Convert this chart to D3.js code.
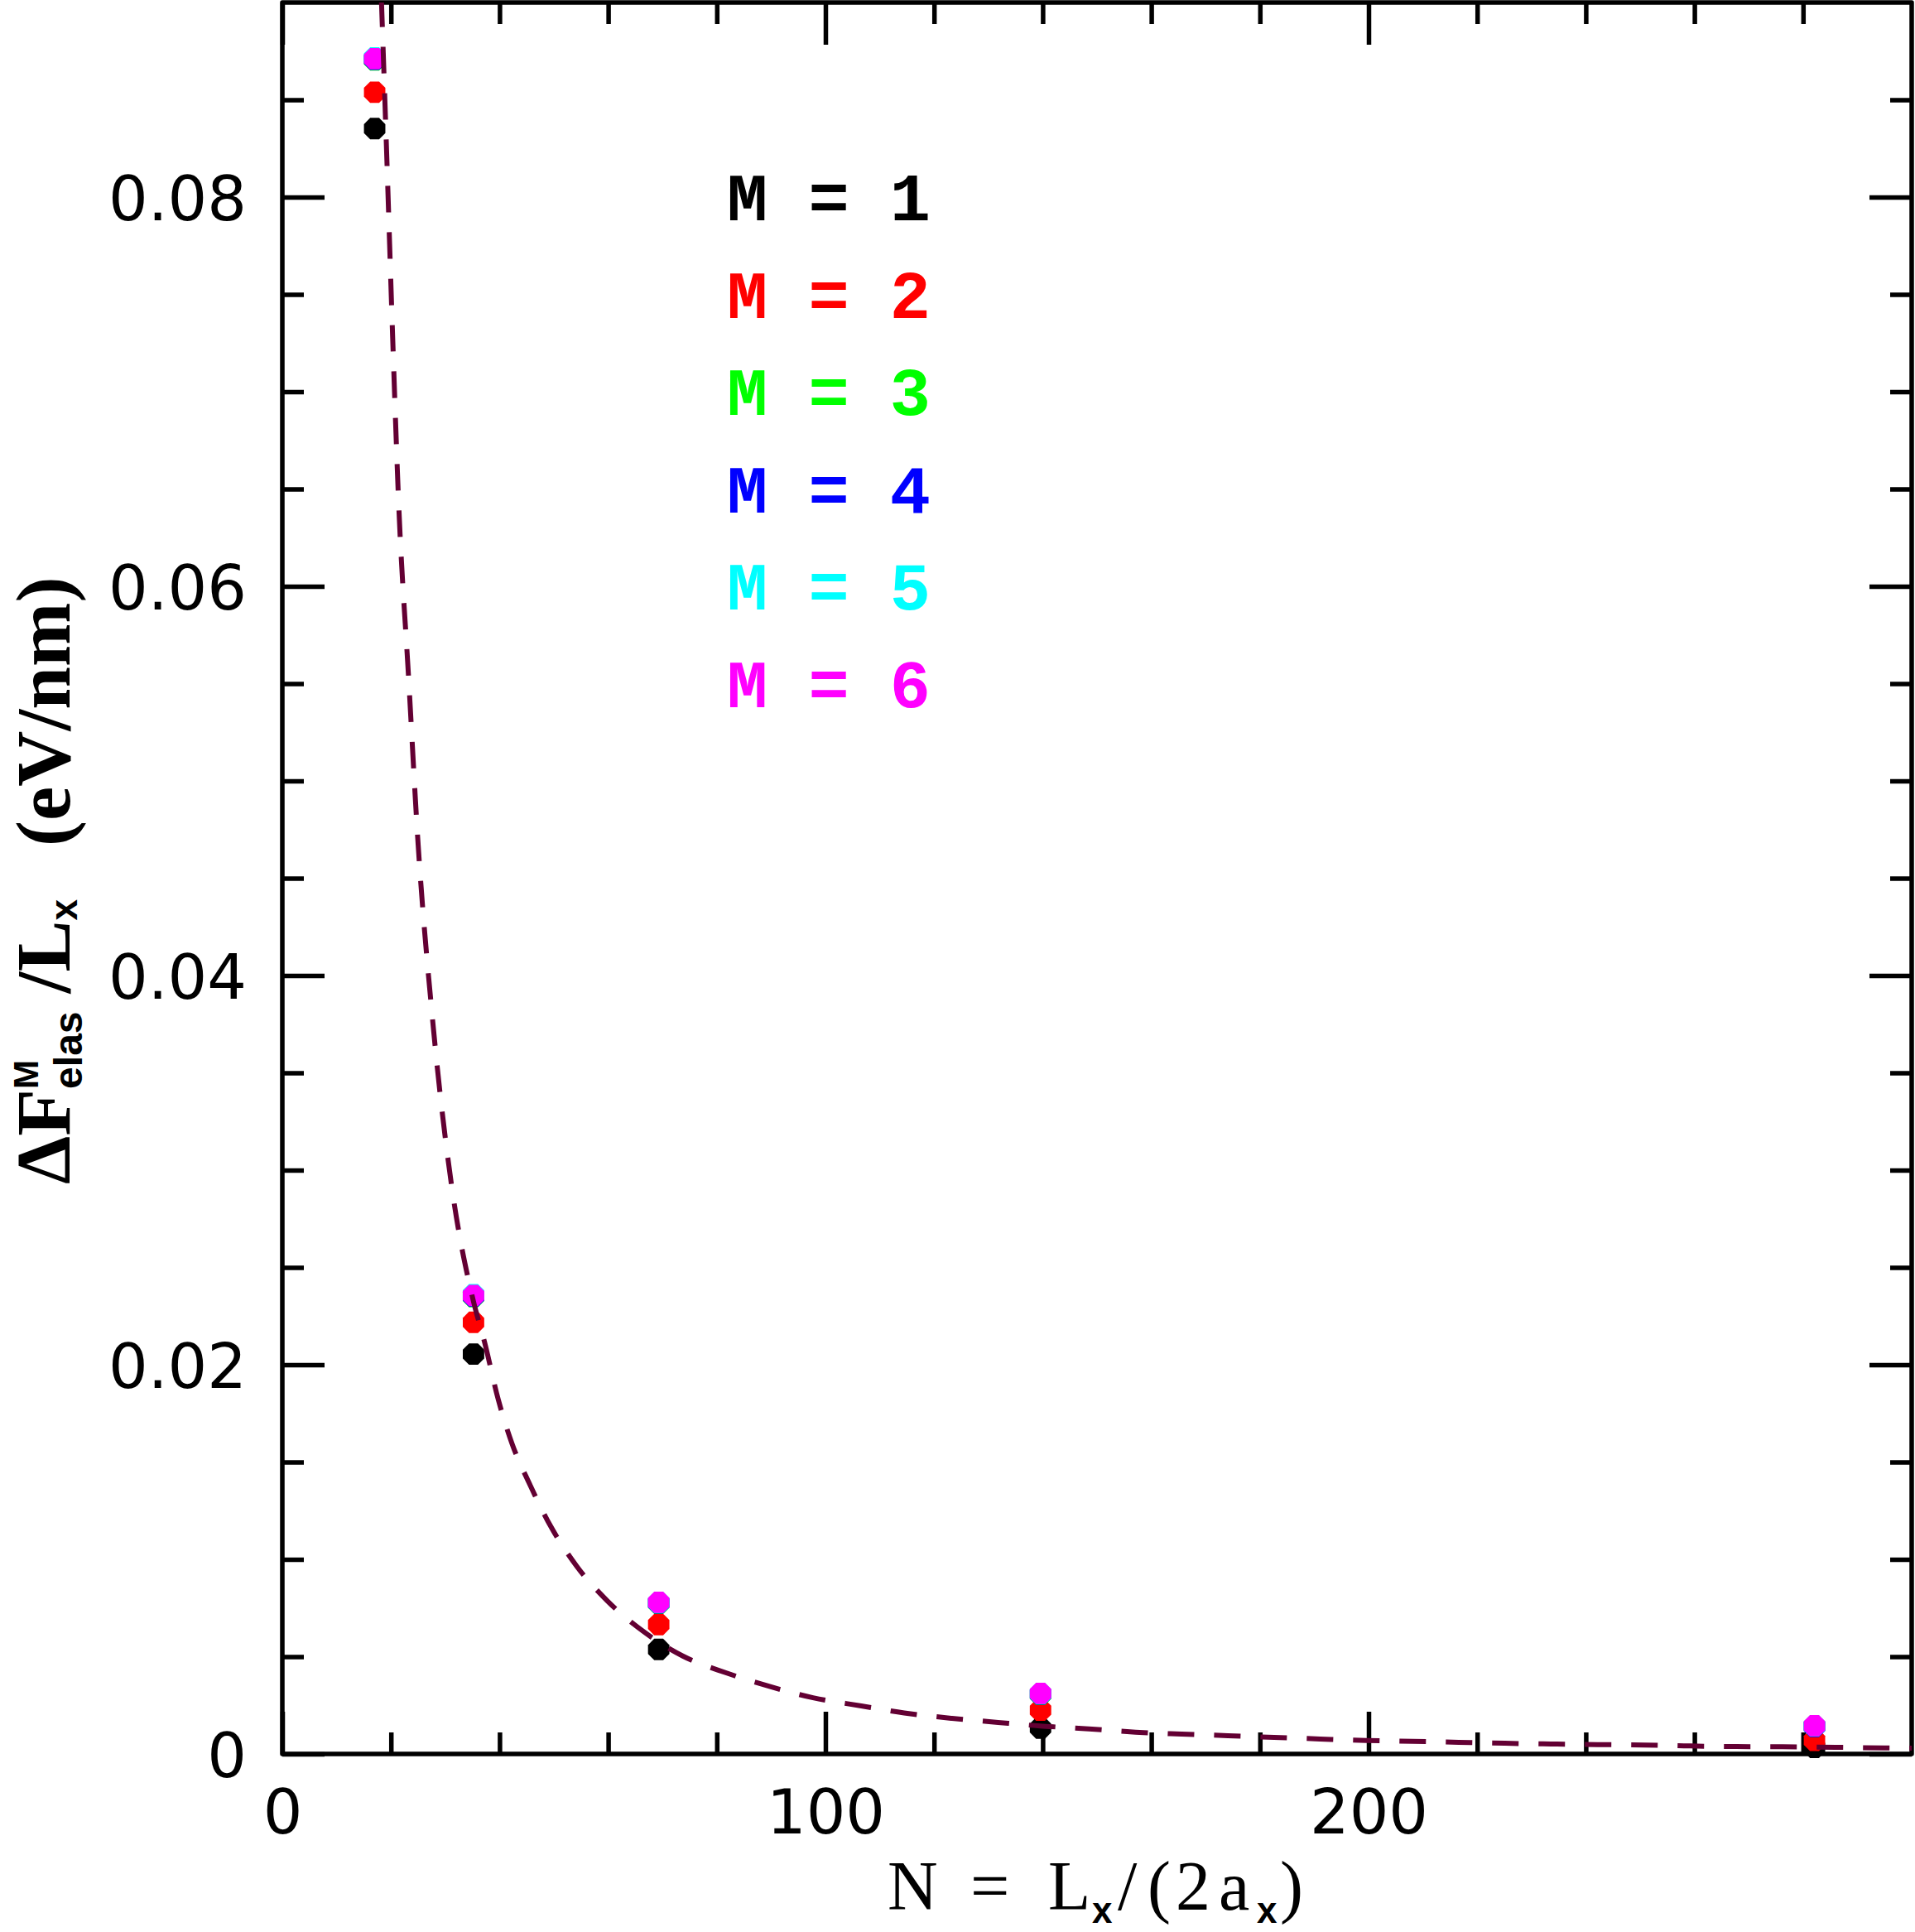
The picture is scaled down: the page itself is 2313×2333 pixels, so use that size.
<!DOCTYPE html>
<html>
<head>
<meta charset="utf-8">
<script src="https://cdn.jsdelivr.net/npm/d3@7/dist/d3.min.js"></script>
<style>
  html, body { margin: 0; padding: 0; background: #fff; }
  svg { display: block; }
</style>
</head>
<body>
<script>
// ---------------- data ----------------
const N  = [17.0, 35.2, 69.3, 139.6, 282.1];
const M1 = [0.08352, 0.02055, 0.00537, 0.00133, 0.00034];
const M2 = [0.08539, 0.02218, 0.00665, 0.00225, 0.00070];
const M3 = [0.08705, 0.02350, 0.00774, 0.00306, 0.00143];
const M4 = [0.08708, 0.02353, 0.00776, 0.00308, 0.00141];
const M5 = [0.08715, 0.02360, 0.00778, 0.00310, 0.00144];
const M6 = [0.08711, 0.02356, 0.00779, 0.00311, 0.00145];
const seriesNames = ["M = 1", "M = 2", "M = 3", "M = 4", "M = 5", "M = 6"];
const seriesColors = ["#000000", "#ff0000", "#00ff00", "#0000ff", "#00ffff", "#ff00ff"];

// dashed fit curve
const fitN = [18.25, 19.31, 20.32, 21.45, 23.23, 25.01, 27.56, 31.11, 35.18, 37.21, 39.76, 42.29, 45.60, 49.41, 54.25, 59.83, 66.45, 73.81, 81.70, 89.83, 97.71, 106.6, 114.5, 123.3, 131.8, 140.0, 148.5, 157.1, 165.6, 174.1, 182.6, 191.1, 199.6, 208.1, 216.6, 225.1, 233.6, 242.2, 250.7, 259.2, 267.7, 276.2, 286.0, 295.7, 300];
const fitV = [0.0901, 0.08143, 0.07275, 0.06408, 0.05540, 0.04672, 0.03804, 0.02931, 0.02327, 0.02119, 0.01821, 0.01595, 0.01383, 0.01170, 0.00963, 0.00787, 0.00630, 0.00502, 0.00417, 0.00346, 0.00289, 0.00247, 0.00211, 0.00183, 0.00162, 0.00143, 0.00129, 0.00112, 0.00102, 0.00094, 0.00085, 0.00077, 0.00069, 0.00065, 0.00060, 0.00055, 0.00051, 0.00048, 0.00046, 0.00041, 0.00038, 0.00037, 0.00034, 0.00031, 0.00030];

// ticks
const xMajor = [0, 100, 200];
const xMinor = [20, 40, 60, 80, 120, 140, 160, 180, 220, 240, 260, 280];
const yMajor = [0, 0.02, 0.04, 0.06, 0.08];
const yMinor = [0.005, 0.01, 0.015, 0.025, 0.03, 0.035, 0.045, 0.05, 0.055, 0.065, 0.07, 0.075, 0.085];
const yLabels = ["0", "0.02", "0.04", "0.06", "0.08"];

// ---------------- layout ----------------
const W = 2313, H = 2333;
const L = 341, R = 2309, T = 3, B = 2118;
const LW = 5.5;

const x = d3.scaleLinear().domain([0, 300]).range([L, R]);
const y = d3.scaleLinear().domain([0, 0.09]).range([B, T]);

const svg = d3.select("body").append("svg")
  .attr("width", W).attr("height", H)
  .attr("viewBox", `0 0 ${W} ${H}`);
svg.append("rect").attr("width", W).attr("height", H).attr("fill", "#fff");

svg.append("defs").append("clipPath").attr("id", "plotclip")
  .append("rect").attr("x", L).attr("y", T).attr("width", R - L).attr("height", B - T);

function styleAxis(g) {
  g.select(".domain").remove();
  g.selectAll(".tick line").attr("stroke", "#000").attr("stroke-width", LW);
}
const MAJ = 51, MIN = 26;

// bottom
const gB = svg.append("g").attr("transform", `translate(0,${B})`)
  .call(d3.axisBottom(x).tickValues(xMajor).tickSize(-MAJ).tickFormat(d3.format("d")));
styleAxis(gB);
gB.selectAll(".tick text")
  .attr("y", 96).attr("dy", 0)
  .attr("fill", "#000")
  .style("font-family", "'DejaVu Sans', sans-serif")
  .style("font-size", "75px")
  .attr("text-anchor", "middle");
svg.append("g").attr("transform", `translate(0,${B})`)
  .call(d3.axisBottom(x).tickValues(xMinor).tickSize(-MIN).tickFormat(""))
  .call(styleAxis);

// top
svg.append("g").attr("transform", `translate(0,${T})`)
  .call(d3.axisTop(x).tickValues(xMajor).tickSize(-MAJ).tickFormat(""))
  .call(styleAxis);
svg.append("g").attr("transform", `translate(0,${T})`)
  .call(d3.axisTop(x).tickValues(xMinor).tickSize(-MIN).tickFormat(""))
  .call(styleAxis);

// left
const gL = svg.append("g").attr("transform", `translate(${L},0)`)
  .call(d3.axisLeft(y).tickValues(yMajor).tickSize(-MAJ).tickFormat((d, i) => yLabels[i]));
styleAxis(gL);
gL.selectAll(".tick text")
  .attr("x", -43).attr("dy", 0).attr("y", 27.5)
  .attr("fill", "#000")
  .attr("text-anchor", "end")
  .style("font-family", "'DejaVu Sans', sans-serif")
  .style("font-size", "75px");
svg.append("g").attr("transform", `translate(${L},0)`)
  .call(d3.axisLeft(y).tickValues(yMinor).tickSize(-MIN).tickFormat(""))
  .call(styleAxis);

// right
svg.append("g").attr("transform", `translate(${R},0)`)
  .call(d3.axisRight(y).tickValues(yMajor).tickSize(-MAJ).tickFormat(""))
  .call(styleAxis);
svg.append("g").attr("transform", `translate(${R},0)`)
  .call(d3.axisRight(y).tickValues(yMinor).tickSize(-MIN).tickFormat(""))
  .call(styleAxis);

// frame
svg.append("rect")
  .attr("x", x(0)).attr("y", y(0.09))
  .attr("width", x(300) - x(0)).attr("height", y(0) - y(0.09))
  .attr("fill", "none").attr("stroke", "#000").attr("stroke-width", LW)
  .attr("stroke-linejoin", "round");

// points (octagons)
const allSeries = [M1, M2, M3, M4, M5, M6];
const RAD = 14;
const octagon = d3.line()(d3.range(8).map(i => {
  const a = Math.PI / 8 + i * Math.PI / 4;
  return [RAD * Math.cos(a), RAD * Math.sin(a)];
})) + "Z";

const gPts = svg.append("g");
allSeries.forEach((vals, si) => {
  gPts.append("g").selectAll("path")
    .data(vals.map((v, i) => ({ n: N[i], v })))
    .join("path")
    .attr("d", octagon)
    .attr("transform", d => `translate(${x(d.n)},${y(d.v)})`)
    .attr("fill", seriesColors[si]);
});

// dashed fit curve
const fitData = fitN.map((n, i) => ({ n, v: fitV[i] }));
svg.append("path")
  .datum(fitData)
  .attr("clip-path", "url(#plotclip)")
  .attr("d", d3.line().x(d => x(d.n)).y(d => y(d.v)).curve(d3.curveMonotoneX))
  .attr("fill", "none")
  .attr("stroke", "#630033")
  .attr("stroke-width", 6)
  .attr("stroke-dasharray", "32,24");

// legend
svg.append("g").selectAll("text")
  .data(seriesNames)
  .join("text")
  .attr("x", 878)
  .attr("y", (d, i) => 266 + i * 117.5)
  .attr("fill", (d, i) => seriesColors[i])
  .style("font-family", "'Liberation Mono', 'DejaVu Sans Mono', monospace")
  .style("font-weight", "bold")
  .style("font-size", "82px")
  .text(d => d);

// x axis title: N = L_x/(2a_x)
const xt = svg.append("text")
  .attr("y", 2306)
  .attr("fill", "#000")
  .style("font-family", "'Liberation Serif', 'DejaVu Serif', serif")
  .style("font-size", "84px");
const subStyle = s => s.style("font-family", "'Liberation Sans', sans-serif").style("font-weight", "bold").style("font-size", "44px");
xt.append("tspan").attr("x", 1072).text("N");
xt.append("tspan").attr("x", 1172).text("=");
xt.append("tspan").attr("x", 1266).text("L");
xt.append("tspan").attr("x", 1319).attr("dy", 16).call(subStyle).text("x");
xt.append("tspan").attr("x", 1350).attr("dy", -16).text("/");
xt.append("tspan").attr("x", 1386).text("(");
xt.append("tspan").attr("x", 1420).text("2");
xt.append("tspan").attr("x", 1472).text("a");
xt.append("tspan").attr("x", 1518).attr("dy", 16).call(subStyle).text("x");
xt.append("tspan").attr("x", 1546).attr("dy", -16).text(")");

// y axis title: ΔF^M_elas /L_x   (eV/nm)
const yt = svg.append("g").attr("transform", "translate(84,1430) rotate(-90)")
  .append("text")
  .attr("x", 0).attr("y", 0)
  .attr("fill", "#000")
  .style("font-family", "'Liberation Serif', 'DejaVu Serif', serif")
  .style("font-weight", "bold")
  .style("font-size", "93px");
yt.append("tspan").text("ΔF");
yt.append("tspan").attr("dy", -38)
  .style("font-family", "'Liberation Sans', sans-serif").style("font-size", "42px").text("M");
yt.append("tspan").attr("dx", -35).attr("dy", 53)
  .style("font-family", "'Liberation Sans', sans-serif").style("font-size", "48px").text("elas");
yt.append("tspan").attr("dx", 22).attr("dy", -15).text("/L");
yt.append("tspan").attr("dy", 9)
  .style("font-family", "'Liberation Sans', sans-serif").style("font-size", "46px").text("x");
yt.append("tspan").attr("dx", 64).attr("dy", -9).text("(eV/nm)");
</script>
</body>
</html>
